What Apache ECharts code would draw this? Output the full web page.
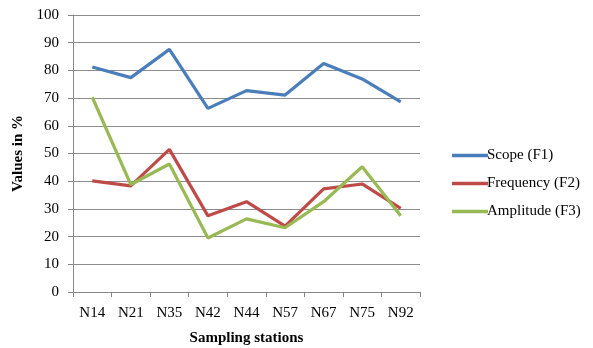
<!DOCTYPE html>
<html>
<head>
<meta charset="utf-8">
<script src="https://cdn.jsdelivr.net/npm/echarts@6/dist/echarts.min.js"></script>
<style>
  html, body { margin: 0; padding: 0; background: #fff; }
  #chart { width: 593px; height: 348px; }
</style>
</head>
<body>
<div id="chart"></div>
<script>
const stations = ['N14', 'N21', 'N35', 'N42', 'N44', 'N57', 'N67', 'N75', 'N92']
const scope = [81.2, 77.4, 87.6, 66.3, 72.7, 71.1, 82.5, 76.9, 68.6]
const frequency = [40.1, 38.3, 51.5, 27.5, 32.6, 23.8, 37.2, 39.0, 30.2]
const amplitude = [70.3, 38.8, 46.2, 19.5, 26.4, 23.2, 32.6, 45.2, 27.5]

const serif = 'Liberation Serif, Times New Roman, serif'
const chart = echarts.init(document.getElementById('chart'))

const mkLine = (name, data, color) => ({
  name: name,
  type: 'line',
  data: data,
  symbol: 'none',
  lineStyle: { color: color, width: 3.2 },
  itemStyle: { color: color }
})

chart.setOption({
  animation: false,
  grid: { left: 73, top: 15, right: 173, bottom: 56, outerBoundsMode: 'none' },
  legend: {
    orient: 'vertical',
    left: 447,
    top: 143,
    icon: 'rect',
    itemWidth: 36,
    itemHeight: 3.5,
    itemGap: 13,
    textStyle: { fontFamily: serif, fontSize: 15, color: '#000', padding: [0, 0, 0, -6] },
    data: ['Scope (F1)', 'Frequency (F2)', 'Amplitude (F3)']
  },
  xAxis: {
    type: 'category',
    data: stations,
    boundaryGap: true,
    name: 'Sampling stations',
    nameLocation: 'middle',
    nameGap: 39,
    nameTextStyle: { fontFamily: serif, fontSize: 15, fontWeight: 'bold', color: '#000' },
    axisLine: { lineStyle: { color: '#888', width: 1 } },
    axisTick: { show: true, alignWithLabel: false, length: 5, lineStyle: { color: '#888' } },
    axisLabel: { fontFamily: serif, fontSize: 15, color: '#000', margin: 14 }
  },
  yAxis: {
    type: 'value',
    min: 0,
    max: 100,
    interval: 10,
    name: 'Values in %',
    nameLocation: 'middle',
    nameGap: 46,
    nameTextStyle: { fontFamily: serif, fontSize: 15, fontWeight: 'bold', color: '#000' },
    axisLine: { show: true, lineStyle: { color: '#888', width: 1 } },
    axisTick: { show: true, length: 5, lineStyle: { color: '#888' } },
    axisLabel: { fontFamily: serif, fontSize: 15, color: '#000', margin: 14 },
    splitLine: { lineStyle: { color: '#8c8c8c', width: 1 } }
  },
  series: [
    mkLine('Scope (F1)', scope, '#4A7EBB'),
    mkLine('Frequency (F2)', frequency, '#BE4B48'),
    mkLine('Amplitude (F3)', amplitude, '#98B954')
  ]
})
</script>
</body>
</html>
